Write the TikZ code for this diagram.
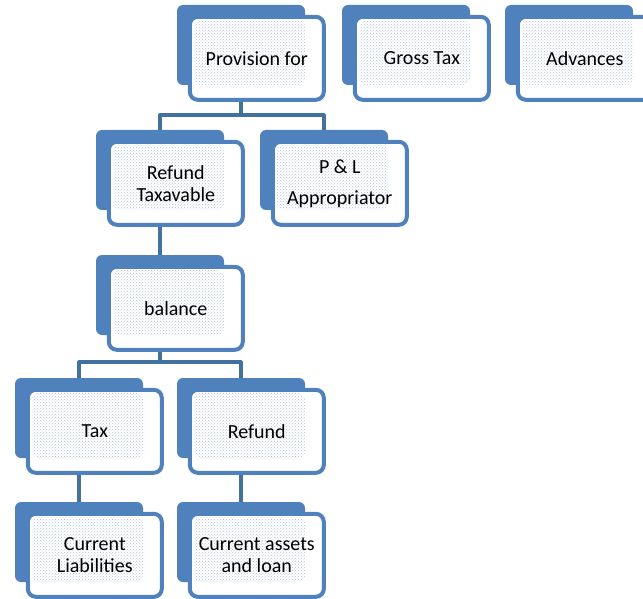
\documentclass[tikz,border=0pt]{standalone}
\usepackage{fontspec}
\setmainfont{Carlito}
\usetikzlibrary{positioning,patterns,backgrounds}

\definecolor{boxblue}{HTML}{4F81BD}
\definecolor{linkblue}{HTML}{41719C}
\definecolor{dotblue}{HTML}{B4C4DC}

% one chart entry: back card and front card
\newcommand\orgbox[4]{%
	\node[backbox] (#1b) at (#2,#3) {};
	\node[frontbox,below right=10pt and 11pt of #1b.north west,
		path picture={\fill[dotfill] ([shift={(4pt,-3pt)}]path picture bounding box.north west) rectangle (#1b.south east);}] (#1) {#4};
}

\begin{document}
\begin{tikzpicture}[x=1pt,y=-1pt,
	backbox/.style={fill=boxblue,rounded corners=6pt,minimum width=128pt,minimum height=80pt,inner sep=0pt},
	frontbox/.style={draw=boxblue,line width=4pt,fill=white,rounded corners=8pt,minimum width=134pt,minimum height=83pt,inner sep=0pt,align=center,font=\fontsize{20}{22}\selectfont},
	dotfill/.style={pattern=crosshatch dots,pattern color=dotblue},
	link/.style={draw=linkblue,line width=3.5pt,line join=round}]
	\useasboundingbox (0,0) rectangle (643,599);
	
	\orgbox{prov}{241}{45}{Provision for}
	\orgbox{gross}{406}{45}{Gross Tax}
	\orgbox{adv}{569}{45}{Advances}
	\orgbox{rtax}{160}{170}{Refund\\Taxavable}
	\orgbox{pl}{324}{170}{P \& L\\[9pt]Appropriator}
	\orgbox{bal}{160}{295}{balance}
	\orgbox{tax}{79}{418}{Tax}
	\orgbox{refund}{241}{418}{Refund}
	\orgbox{cliab}{79}{542}{Current\\Liabilities}
	\orgbox{cassets}{241}{542}{Current assets\\and loan}
	
	\begin{scope}[on background layer]
		\draw[link] (provb.south) -- ++(0,30) coordinate (provj) -| (rtaxb.north);
		\draw[link] (provj) -| (plb.north);
		\draw[link] (rtaxb.south) -- (balb.north);
		\draw[link] (balb.south) -- ++(0,27) coordinate (balj) -| (taxb.north);
		\draw[link] (balj) -| (refundb.north);
		\draw[link] (taxb.south) -- (cliabb.north);
		\draw[link] (refundb.south) -- (cassetsb.north);
	\end{scope}
	
\end{tikzpicture}
\end{document}
